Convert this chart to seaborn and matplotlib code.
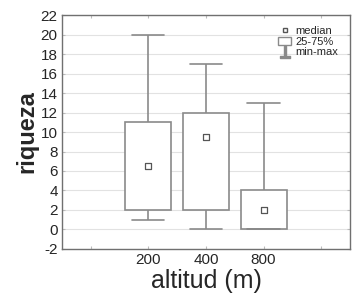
import pandas as pd
import matplotlib
matplotlib.use("Agg")
import matplotlib.pyplot as plt
import seaborn as sns
from matplotlib.lines import Line2D
from matplotlib.patches import Patch

# resumen por altitud (min, 25%, mediana, 75%, max)
altitudes = ["200", "400", "800"]
minimos = [1, 0, 0]
q1 = [2, 2, 0]
medianas = [6.5, 9.5, 2]
q3 = [11, 12, 4]
maximos = [20, 17, 13]

filas = []
for i, alt in enumerate(altitudes):
    for v in (minimos[i], q1[i], medianas[i], q3[i], maximos[i]):
        filas.append({"altitud": alt, "riqueza": v})
df = pd.DataFrame(filas)

sns.set_style("white")
plt.rcParams["font.family"] = ["Liberation Sans", "DejaVu Sans"]

gris = "#8a8a8a"
fig = plt.figure(figsize=(3.62, 3.07), dpi=100)
ax = fig.add_axes([0.171, 0.189, 0.796, 0.762])

sns.boxplot(data=df, x="altitud", y="riqueza", order=altitudes, whis=(0, 100),
            width=0.8, color="white", linecolor=gris, linewidth=1.2,
            showfliers=False, medianprops={"visible": False},
            capprops={"color": gris}, whiskerprops={"color": gris}, ax=ax)
# topes de los bigotes un poco más cortos que la caja
for cap in ax.lines:
    if len(cap.get_xdata()) == 2 and cap.get_ydata()[0] == cap.get_ydata()[1]:
        x0, x1 = cap.get_xdata()
        c = (x0 + x1) / 2
        cap.set_xdata([c - 0.28, c + 0.28])

med = pd.DataFrame({"altitud": altitudes, "mediana": medianas})
sns.scatterplot(data=med, x="altitud", y="mediana", marker="s", s=14,
                facecolor="white", edgecolor="#555555", linewidth=0.9,
                ax=ax, zorder=5)

ax.set_xlim(-1.5, 3.5)
ax.set_xticks([-1, 0, 1, 2, 3])
ax.set_xticklabels(["", "200", "400", "800", ""], fontsize=11)
ax.set_ylim(-2, 22)
ax.set_yticks(range(-2, 23, 2))
ax.set_yticklabels([str(v) for v in range(-2, 23, 2)], fontsize=11)
ax.yaxis.grid(True, color="#e2e2e2", linewidth=0.8)
ax.set_axisbelow(True)
ax.tick_params(direction="in", length=2, color="#bbbbbb", top=True, right=True,
               bottom=True, left=True, pad=3)
for s in ax.spines.values():
    s.set_color("#707070")
    s.set_linewidth(1.0)

ax.set_xlabel("altitud (m)", fontsize=18, labelpad=1)
ax.set_ylabel("riqueza", fontsize=17, fontweight="bold", labelpad=2)

handles = [
    Line2D([], [], ls="none", marker="s", ms=3, mfc="white", mec="#555555"),
    Patch(facecolor="white", edgecolor=gris),
    Line2D([], [], ls="none", marker="$\\perp$", ms=8, color=gris),
]
ax.legend(handles, ["median", "25-75%", "min-max"], loc="upper right",
          bbox_to_anchor=(0.985, 0.985), frameon=False, fontsize=8,
          handlelength=1.1, handletextpad=0.4, labelspacing=0.05,
          borderaxespad=0.3)

fig.savefig("out.png", dpi=100)
